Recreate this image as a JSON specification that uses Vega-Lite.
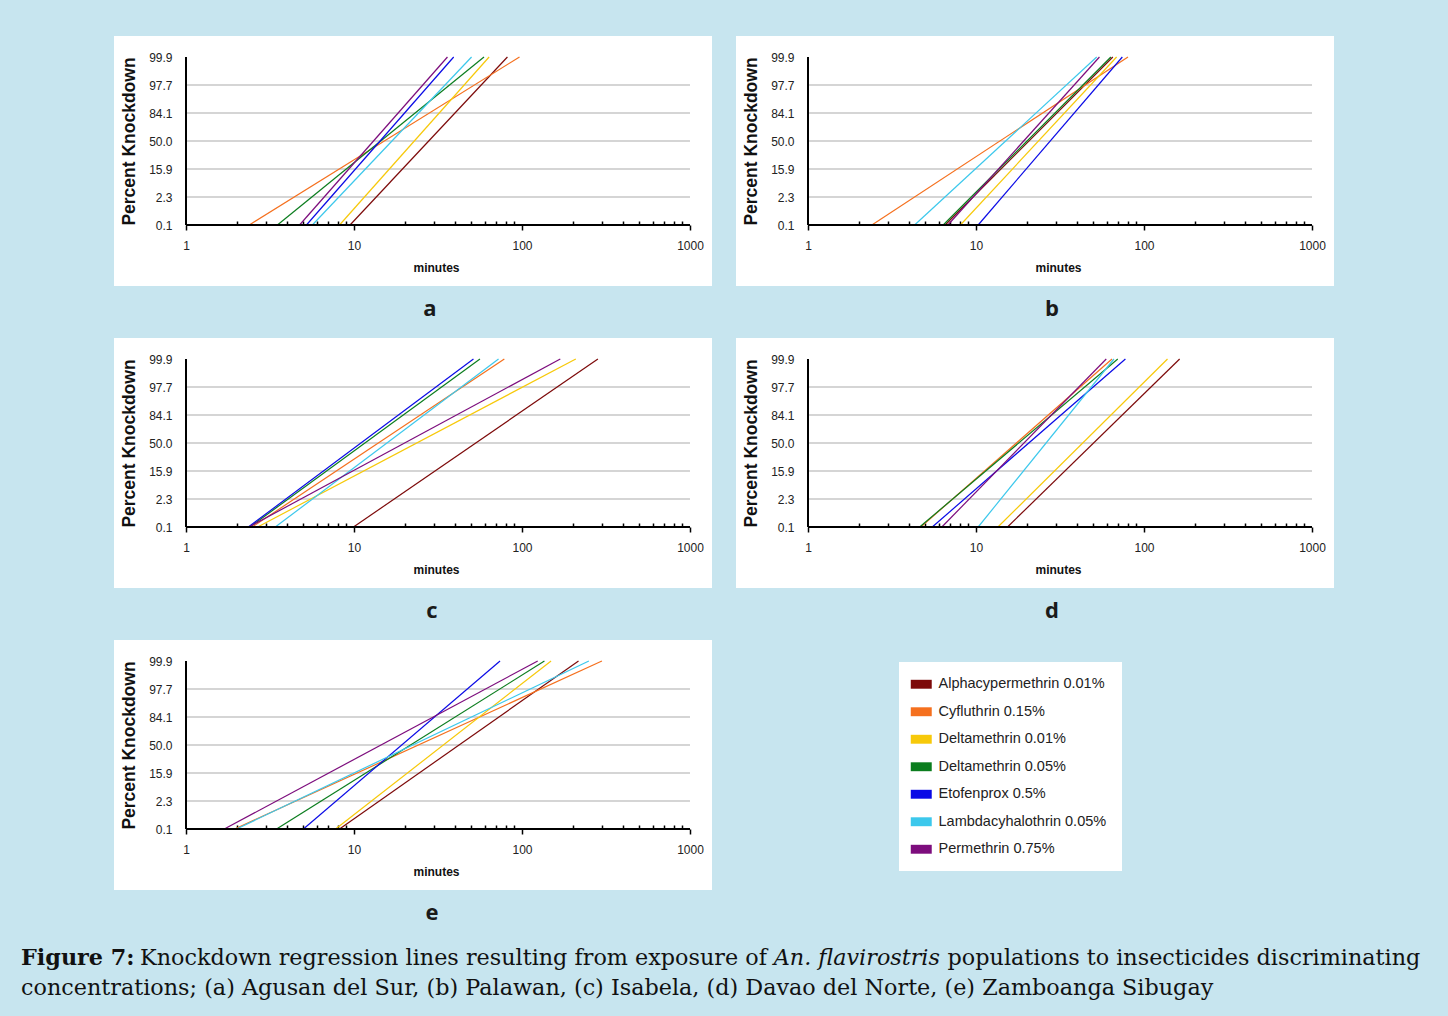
{
  "$schema": "https://vega.github.io/schema/vega-lite/v6.json",
  "background": "#c7e5ef",
  "padding": {"left": 21, "right": 28, "top": 36, "bottom": 22},
  "bounds": "flush",
  "title": {"text": "concentrations; (a) Agusan del Sur, (b) Palawan, (c) Isabela, (d) Davao del Norte, (e) Zamboanga Sibugay", "orient": "bottom", "anchor": "start", "font": "DejaVu Serif", "fontSize": 22.3, "fontWeight": "normal", "color": "#111111", "dx": 0, "offset": 7.5},
  "datasets": {
    "lines": [
      {"panel": "a", "insecticide": "Alphacypermethrin 0.01%", "minutes": 9.47, "probit": -3},
      {"panel": "a", "insecticide": "Alphacypermethrin 0.01%", "minutes": 81.9, "probit": 3},
      {"panel": "a", "insecticide": "Cyfluthrin 0.15%", "minutes": 2.38, "probit": -3},
      {"panel": "a", "insecticide": "Cyfluthrin 0.15%", "minutes": 96.6, "probit": 3},
      {"panel": "a", "insecticide": "Deltamethrin 0.01%", "minutes": 8.2, "probit": -3},
      {"panel": "a", "insecticide": "Deltamethrin 0.01%", "minutes": 63.7, "probit": 3},
      {"panel": "a", "insecticide": "Deltamethrin 0.05%", "minutes": 3.5, "probit": -3},
      {"panel": "a", "insecticide": "Deltamethrin 0.05%", "minutes": 59.4, "probit": 3},
      {"panel": "a", "insecticide": "Etofenprox 0.5%", "minutes": 5.21, "probit": -3},
      {"panel": "a", "insecticide": "Etofenprox 0.5%", "minutes": 39.2, "probit": 3},
      {"panel": "a", "insecticide": "Lambdacyhalothrin 0.05%", "minutes": 5.65, "probit": -3},
      {"panel": "a", "insecticide": "Lambdacyhalothrin 0.05%", "minutes": 50.1, "probit": 3},
      {"panel": "a", "insecticide": "Permethrin 0.75%", "minutes": 4.74, "probit": -3},
      {"panel": "a", "insecticide": "Permethrin 0.75%", "minutes": 36.0, "probit": 3},
      {"panel": "b", "insecticide": "Alphacypermethrin 0.01%", "minutes": 6.55, "probit": -3},
      {"panel": "b", "insecticide": "Alphacypermethrin 0.01%", "minutes": 65.2, "probit": 3},
      {"panel": "b", "insecticide": "Cyfluthrin 0.15%", "minutes": 2.4, "probit": -3},
      {"panel": "b", "insecticide": "Cyfluthrin 0.15%", "minutes": 80.3, "probit": 3},
      {"panel": "b", "insecticide": "Deltamethrin 0.01%", "minutes": 8.07, "probit": -3},
      {"panel": "b", "insecticide": "Deltamethrin 0.01%", "minutes": 68.7, "probit": 3},
      {"panel": "b", "insecticide": "Deltamethrin 0.05%", "minutes": 6.38, "probit": -3},
      {"panel": "b", "insecticide": "Deltamethrin 0.05%", "minutes": 63.5, "probit": 3},
      {"panel": "b", "insecticide": "Etofenprox 0.5%", "minutes": 10.3, "probit": -3},
      {"panel": "b", "insecticide": "Etofenprox 0.5%", "minutes": 74.3, "probit": 3},
      {"panel": "b", "insecticide": "Lambdacyhalothrin 0.05%", "minutes": 4.31, "probit": -3},
      {"panel": "b", "insecticide": "Lambdacyhalothrin 0.05%", "minutes": 52.3, "probit": 3},
      {"panel": "b", "insecticide": "Permethrin 0.75%", "minutes": 6.8, "probit": -3},
      {"panel": "b", "insecticide": "Permethrin 0.75%", "minutes": 54.3, "probit": 3},
      {"panel": "c", "insecticide": "Alphacypermethrin 0.01%", "minutes": 9.93, "probit": -3},
      {"panel": "c", "insecticide": "Alphacypermethrin 0.01%", "minutes": 283, "probit": 3},
      {"panel": "c", "insecticide": "Cyfluthrin 0.15%", "minutes": 2.48, "probit": -3},
      {"panel": "c", "insecticide": "Cyfluthrin 0.15%", "minutes": 78.5, "probit": 3},
      {"panel": "c", "insecticide": "Deltamethrin 0.01%", "minutes": 2.67, "probit": -3},
      {"panel": "c", "insecticide": "Deltamethrin 0.01%", "minutes": 209, "probit": 3},
      {"panel": "c", "insecticide": "Deltamethrin 0.05%", "minutes": 2.4, "probit": -3},
      {"panel": "c", "insecticide": "Deltamethrin 0.05%", "minutes": 56.2, "probit": 3},
      {"panel": "c", "insecticide": "Etofenprox 0.5%", "minutes": 2.35, "probit": -3},
      {"panel": "c", "insecticide": "Etofenprox 0.5%", "minutes": 51.4, "probit": 3},
      {"panel": "c", "insecticide": "Lambdacyhalothrin 0.05%", "minutes": 3.4, "probit": -3},
      {"panel": "c", "insecticide": "Lambdacyhalothrin 0.05%", "minutes": 72.5, "probit": 3},
      {"panel": "c", "insecticide": "Permethrin 0.75%", "minutes": 2.37, "probit": -3},
      {"panel": "c", "insecticide": "Permethrin 0.75%", "minutes": 169, "probit": 3},
      {"panel": "d", "insecticide": "Alphacypermethrin 0.01%", "minutes": 15.4, "probit": -3},
      {"panel": "d", "insecticide": "Alphacypermethrin 0.01%", "minutes": 163, "probit": 3},
      {"panel": "d", "insecticide": "Cyfluthrin 0.15%", "minutes": 4.69, "probit": -3},
      {"panel": "d", "insecticide": "Cyfluthrin 0.15%", "minutes": 64.5, "probit": 3},
      {"panel": "d", "insecticide": "Deltamethrin 0.01%", "minutes": 13.5, "probit": -3},
      {"panel": "d", "insecticide": "Deltamethrin 0.01%", "minutes": 138, "probit": 3},
      {"panel": "d", "insecticide": "Deltamethrin 0.05%", "minutes": 4.62, "probit": -3},
      {"panel": "d", "insecticide": "Deltamethrin 0.05%", "minutes": 69.8, "probit": 3},
      {"panel": "d", "insecticide": "Etofenprox 0.5%", "minutes": 5.49, "probit": -3},
      {"panel": "d", "insecticide": "Etofenprox 0.5%", "minutes": 77.5, "probit": 3},
      {"panel": "d", "insecticide": "Lambdacyhalothrin 0.05%", "minutes": 10.3, "probit": -3},
      {"panel": "d", "insecticide": "Lambdacyhalothrin 0.05%", "minutes": 66.2, "probit": 3},
      {"panel": "d", "insecticide": "Permethrin 0.75%", "minutes": 6.26, "probit": -3},
      {"panel": "d", "insecticide": "Permethrin 0.75%", "minutes": 59.6, "probit": 3},
      {"panel": "e", "insecticide": "Alphacypermethrin 0.01%", "minutes": 8.2, "probit": -3},
      {"panel": "e", "insecticide": "Alphacypermethrin 0.01%", "minutes": 217, "probit": 3},
      {"panel": "e", "insecticide": "Cyfluthrin 0.15%", "minutes": 1.95, "probit": -3},
      {"panel": "e", "insecticide": "Cyfluthrin 0.15%", "minutes": 299, "probit": 3},
      {"panel": "e", "insecticide": "Deltamethrin 0.01%", "minutes": 7.77, "probit": -3},
      {"panel": "e", "insecticide": "Deltamethrin 0.01%", "minutes": 149, "probit": 3},
      {"panel": "e", "insecticide": "Deltamethrin 0.05%", "minutes": 3.46, "probit": -3},
      {"panel": "e", "insecticide": "Deltamethrin 0.05%", "minutes": 136, "probit": 3},
      {"panel": "e", "insecticide": "Etofenprox 0.5%", "minutes": 5.0, "probit": -3},
      {"panel": "e", "insecticide": "Etofenprox 0.5%", "minutes": 74, "probit": 3},
      {"panel": "e", "insecticide": "Lambdacyhalothrin 0.05%", "minutes": 2.0, "probit": -3},
      {"panel": "e", "insecticide": "Lambdacyhalothrin 0.05%", "minutes": 250, "probit": 3},
      {"panel": "e", "insecticide": "Permethrin 0.75%", "minutes": 1.69, "probit": -3},
      {"panel": "e", "insecticide": "Permethrin 0.75%", "minutes": 124, "probit": 3}
    ],
    "grid": [{"probit": -2}, {"probit": -1}, {"probit": 0}, {"probit": 1}, {"probit": 2}],
    "frame": [
      {"x_from": 1, "x_to": 1000, "p_from": -3, "p_to": -3},
      {"x_from": 1, "x_to": 1, "p_from": -3, "p_to": 3}
    ]
  },
  "vconcat": [
    {
      "bounds": "flush",
      "title": {"text": "Figure 7:", "orient": "bottom", "anchor": "start", "font": "DejaVu Serif", "fontSize": 22.3, "fontWeight": "bold", "color": "#111111", "dx": -93, "offset": 0, "dy": -22.3},
      "vconcat": [
        {
          "bounds": "flush",
          "title": {"text": "populations to insecticides discriminating", "orient": "bottom", "anchor": "start", "font": "DejaVu Serif", "fontSize": 22.3, "fontWeight": "normal", "color": "#111111", "dx": 833.6, "offset": 0, "dy": -22.3},
          "vconcat": [
            {
              "bounds": "flush",
              "title": {"text": "An. flavirostris", "orient": "bottom", "anchor": "start", "font": "DejaVu Serif", "fontSize": 22.3, "fontWeight": "normal", "fontStyle": "italic", "color": "#111111", "dx": 659.7, "offset": 0, "dy": -22.3},
              "vconcat": [
                {
                  "title": {"text": "Knockdown regression lines resulting from exposure of", "orient": "bottom", "anchor": "start", "font": "DejaVu Serif", "fontSize": 22.3, "fontWeight": "normal", "color": "#111111", "dx": 26, "offset": 23},
                  "bounds": "flush",
                  "columns": 2,
                  "spacing": {"row": 52, "column": 24},
                  "concat": [
                    {
                      "width": 598, "height": 250,
                      "title": {"text": "a", "dx": 17},
                      "resolve": {"axis": {"x": "independent", "y": "independent"}},
                      "layer": [
                        {"data": {"name": "grid"}, "mark": {"type": "rule", "color": "#ababab", "strokeWidth": 1},
                         "encoding": {"x": {"datum": 1, "type": "quantitative", "scale": {"type": "log", "domain": [0.3727, 1352], "nice": false}, "axis": null}, "x2": {"datum": 1000}, "y": {"field": "probit", "type": "quantitative", "scale": {"domain": [-5.17857, 3.75], "nice": false, "zero": false}, "axis": null}}},
                        {"data": {"name": "lines"}, "transform": [{"filter": "datum.panel === 'a'"}], "mark": {"type": "line", "strokeWidth": 1.2},
                         "encoding": {
                           "x": {"field": "minutes", "type": "quantitative", "scale": {"type": "log", "domain": [0.3727, 1352], "nice": false},
                             "axis": {"orient": "bottom", "offset": -61, "domain": false, "grid": false, "values": [1,2,3,4,5,6,7,8,9,10,20,30,40,50,60,70,80,90,100,200,300,400,500,600,700,800,900,1000], "labelExpr": "datum.value==1||datum.value==10||datum.value==100||datum.value==1000 ? format(datum.value,'d') : ''", "labelOverlap": false, "labelFlush": false, "labelBound": false, "tickColor": "#000000", "tickWidth": 1.5, "tickSize": {"condition": {"test": "datum.value==1||datum.value==10||datum.value==100||datum.value==1000", "value": 5}, "value": -4}, "labelFont": "Liberation Sans", "labelFontSize": 12, "labelColor": "#222222", "labelPadding": 10, "title": "minutes", "titleFont": "Liberation Sans", "titleFontSize": 12, "titleFontWeight": "bold", "titleColor": "#111111", "titleX": 322, "titleY": 42, "titleBaseline": "middle", "titleAlign": "center"}},
                           "y": {"field": "probit", "type": "quantitative", "scale": {"domain": [-5.17857, 3.75], "nice": false, "zero": false},
                             "axis": {"orient": "left", "offset": -72, "domain": false, "ticks": false, "tickSize": 0, "grid": false, "values": [-3,-2,-1,0,1,2,3], "labelExpr": "['0.1','2.3','15.9','50.0','84.1','97.7','99.9'][datum.value+3]", "labelFont": "Liberation Sans", "labelFontSize": 12, "labelColor": "#222222", "labelPadding": 14, "title": "Percent Knockdown", "titleFont": "Liberation Sans", "titleFontSize": 17.5, "titleFontWeight": "bold", "titleColor": "#111111", "titleX": -57, "titleY": 105, "titleAngle": -90, "titleBaseline": "middle", "titleAlign": "center"}},
                           "color": {"field": "insecticide", "type": "nominal",
                             "scale": {"domain": ["Alphacypermethrin 0.01%", "Cyfluthrin 0.15%", "Deltamethrin 0.01%", "Deltamethrin 0.05%", "Etofenprox 0.5%", "Lambdacyhalothrin 0.05%", "Permethrin 0.75%"], "range": ["#7d0a0a", "#f5701e", "#f7c90a", "#0b7d1e", "#0a0ae6", "#3cc8ec", "#7d0d7d"]},
                             "legend": {"orient": "none", "legendX": 785, "legendY": 626, "title": null, "fillColor": "#ffffff", "padding": 15, "labelFont": "Liberation Sans", "labelFontSize": 14.5, "labelLimit": 400, "labelColor": "#222222", "symbolType": "M-2,-0.85H2V0.85H-2Z", "symbolSize": 110, "symbolStrokeWidth": 0, "rowPadding": 12.5, "labelOffset": 10,
                               "encode": {"symbols": {"update": {"fill": {"scale": "color", "field": "value"}, "fillOpacity": {"value": 1}, "strokeWidth": {"value": 0}}}}}}
                         }},
                        {"data": {"name": "frame"}, "mark": {"type": "rule", "color": "#000000", "strokeWidth": 2},
                         "encoding": {"x": {"field": "x_from", "type": "quantitative", "scale": {"type": "log", "domain": [0.3727, 1352], "nice": false}, "axis": null}, "x2": {"field": "x_to"}, "y": {"field": "p_from", "type": "quantitative", "scale": {"domain": [-5.17857, 3.75], "nice": false, "zero": false}, "axis": null}, "y2": {"field": "p_to"}}}
                      ]
                    },
                    {
                      "width": 598, "height": 250,
                      "title": {"text": "b", "dx": 17},
                      "resolve": {"axis": {"x": "independent", "y": "independent"}},
                      "layer": [
                        {"data": {"name": "grid"}, "mark": {"type": "rule", "color": "#ababab", "strokeWidth": 1},
                         "encoding": {"x": {"datum": 1, "type": "quantitative", "scale": {"type": "log", "domain": [0.3727, 1352], "nice": false}, "axis": null}, "x2": {"datum": 1000}, "y": {"field": "probit", "type": "quantitative", "scale": {"domain": [-5.17857, 3.75], "nice": false, "zero": false}, "axis": null}}},
                        {"data": {"name": "lines"}, "transform": [{"filter": "datum.panel === 'b'"}], "mark": {"type": "line", "strokeWidth": 1.2},
                         "encoding": {
                           "x": {"field": "minutes", "type": "quantitative", "scale": {"type": "log", "domain": [0.3727, 1352], "nice": false},
                             "axis": {"orient": "bottom", "offset": -61, "domain": false, "grid": false, "values": [1,2,3,4,5,6,7,8,9,10,20,30,40,50,60,70,80,90,100,200,300,400,500,600,700,800,900,1000], "labelExpr": "datum.value==1||datum.value==10||datum.value==100||datum.value==1000 ? format(datum.value,'d') : ''", "labelOverlap": false, "labelFlush": false, "labelBound": false, "tickColor": "#000000", "tickWidth": 1.5, "tickSize": {"condition": {"test": "datum.value==1||datum.value==10||datum.value==100||datum.value==1000", "value": 5}, "value": -4}, "labelFont": "Liberation Sans", "labelFontSize": 12, "labelColor": "#222222", "labelPadding": 10, "title": "minutes", "titleFont": "Liberation Sans", "titleFontSize": 12, "titleFontWeight": "bold", "titleColor": "#111111", "titleX": 322, "titleY": 42, "titleBaseline": "middle", "titleAlign": "center"}},
                           "y": {"field": "probit", "type": "quantitative", "scale": {"domain": [-5.17857, 3.75], "nice": false, "zero": false},
                             "axis": {"orient": "left", "offset": -72, "domain": false, "ticks": false, "tickSize": 0, "grid": false, "values": [-3,-2,-1,0,1,2,3], "labelExpr": "['0.1','2.3','15.9','50.0','84.1','97.7','99.9'][datum.value+3]", "labelFont": "Liberation Sans", "labelFontSize": 12, "labelColor": "#222222", "labelPadding": 14, "title": "Percent Knockdown", "titleFont": "Liberation Sans", "titleFontSize": 17.5, "titleFontWeight": "bold", "titleColor": "#111111", "titleX": -57, "titleY": 105, "titleAngle": -90, "titleBaseline": "middle", "titleAlign": "center"}},
                           "color": {"field": "insecticide", "type": "nominal"}
                         }},
                        {"data": {"name": "frame"}, "mark": {"type": "rule", "color": "#000000", "strokeWidth": 2},
                         "encoding": {"x": {"field": "x_from", "type": "quantitative", "scale": {"type": "log", "domain": [0.3727, 1352], "nice": false}, "axis": null}, "x2": {"field": "x_to"}, "y": {"field": "p_from", "type": "quantitative", "scale": {"domain": [-5.17857, 3.75], "nice": false, "zero": false}, "axis": null}, "y2": {"field": "p_to"}}}
                      ]
                    },
                    {
                      "width": 598, "height": 250,
                      "title": {"text": "c", "dx": 19},
                      "resolve": {"axis": {"x": "independent", "y": "independent"}},
                      "layer": [
                        {"data": {"name": "grid"}, "mark": {"type": "rule", "color": "#ababab", "strokeWidth": 1},
                         "encoding": {"x": {"datum": 1, "type": "quantitative", "scale": {"type": "log", "domain": [0.3727, 1352], "nice": false}, "axis": null}, "x2": {"datum": 1000}, "y": {"field": "probit", "type": "quantitative", "scale": {"domain": [-5.17857, 3.75], "nice": false, "zero": false}, "axis": null}}},
                        {"data": {"name": "lines"}, "transform": [{"filter": "datum.panel === 'c'"}], "mark": {"type": "line", "strokeWidth": 1.2},
                         "encoding": {
                           "x": {"field": "minutes", "type": "quantitative", "scale": {"type": "log", "domain": [0.3727, 1352], "nice": false},
                             "axis": {"orient": "bottom", "offset": -61, "domain": false, "grid": false, "values": [1,2,3,4,5,6,7,8,9,10,20,30,40,50,60,70,80,90,100,200,300,400,500,600,700,800,900,1000], "labelExpr": "datum.value==1||datum.value==10||datum.value==100||datum.value==1000 ? format(datum.value,'d') : ''", "labelOverlap": false, "labelFlush": false, "labelBound": false, "tickColor": "#000000", "tickWidth": 1.5, "tickSize": {"condition": {"test": "datum.value==1||datum.value==10||datum.value==100||datum.value==1000", "value": 5}, "value": -4}, "labelFont": "Liberation Sans", "labelFontSize": 12, "labelColor": "#222222", "labelPadding": 10, "title": "minutes", "titleFont": "Liberation Sans", "titleFontSize": 12, "titleFontWeight": "bold", "titleColor": "#111111", "titleX": 322, "titleY": 42, "titleBaseline": "middle", "titleAlign": "center"}},
                           "y": {"field": "probit", "type": "quantitative", "scale": {"domain": [-5.17857, 3.75], "nice": false, "zero": false},
                             "axis": {"orient": "left", "offset": -72, "domain": false, "ticks": false, "tickSize": 0, "grid": false, "values": [-3,-2,-1,0,1,2,3], "labelExpr": "['0.1','2.3','15.9','50.0','84.1','97.7','99.9'][datum.value+3]", "labelFont": "Liberation Sans", "labelFontSize": 12, "labelColor": "#222222", "labelPadding": 14, "title": "Percent Knockdown", "titleFont": "Liberation Sans", "titleFontSize": 17.5, "titleFontWeight": "bold", "titleColor": "#111111", "titleX": -57, "titleY": 105, "titleAngle": -90, "titleBaseline": "middle", "titleAlign": "center"}},
                           "color": {"field": "insecticide", "type": "nominal"}
                         }},
                        {"data": {"name": "frame"}, "mark": {"type": "rule", "color": "#000000", "strokeWidth": 2},
                         "encoding": {"x": {"field": "x_from", "type": "quantitative", "scale": {"type": "log", "domain": [0.3727, 1352], "nice": false}, "axis": null}, "x2": {"field": "x_to"}, "y": {"field": "p_from", "type": "quantitative", "scale": {"domain": [-5.17857, 3.75], "nice": false, "zero": false}, "axis": null}, "y2": {"field": "p_to"}}}
                      ]
                    },
                    {
                      "width": 598, "height": 250,
                      "title": {"text": "d", "dx": 17},
                      "resolve": {"axis": {"x": "independent", "y": "independent"}},
                      "layer": [
                        {"data": {"name": "grid"}, "mark": {"type": "rule", "color": "#ababab", "strokeWidth": 1},
                         "encoding": {"x": {"datum": 1, "type": "quantitative", "scale": {"type": "log", "domain": [0.3727, 1352], "nice": false}, "axis": null}, "x2": {"datum": 1000}, "y": {"field": "probit", "type": "quantitative", "scale": {"domain": [-5.17857, 3.75], "nice": false, "zero": false}, "axis": null}}},
                        {"data": {"name": "lines"}, "transform": [{"filter": "datum.panel === 'd'"}], "mark": {"type": "line", "strokeWidth": 1.2},
                         "encoding": {
                           "x": {"field": "minutes", "type": "quantitative", "scale": {"type": "log", "domain": [0.3727, 1352], "nice": false},
                             "axis": {"orient": "bottom", "offset": -61, "domain": false, "grid": false, "values": [1,2,3,4,5,6,7,8,9,10,20,30,40,50,60,70,80,90,100,200,300,400,500,600,700,800,900,1000], "labelExpr": "datum.value==1||datum.value==10||datum.value==100||datum.value==1000 ? format(datum.value,'d') : ''", "labelOverlap": false, "labelFlush": false, "labelBound": false, "tickColor": "#000000", "tickWidth": 1.5, "tickSize": {"condition": {"test": "datum.value==1||datum.value==10||datum.value==100||datum.value==1000", "value": 5}, "value": -4}, "labelFont": "Liberation Sans", "labelFontSize": 12, "labelColor": "#222222", "labelPadding": 10, "title": "minutes", "titleFont": "Liberation Sans", "titleFontSize": 12, "titleFontWeight": "bold", "titleColor": "#111111", "titleX": 322, "titleY": 42, "titleBaseline": "middle", "titleAlign": "center"}},
                           "y": {"field": "probit", "type": "quantitative", "scale": {"domain": [-5.17857, 3.75], "nice": false, "zero": false},
                             "axis": {"orient": "left", "offset": -72, "domain": false, "ticks": false, "tickSize": 0, "grid": false, "values": [-3,-2,-1,0,1,2,3], "labelExpr": "['0.1','2.3','15.9','50.0','84.1','97.7','99.9'][datum.value+3]", "labelFont": "Liberation Sans", "labelFontSize": 12, "labelColor": "#222222", "labelPadding": 14, "title": "Percent Knockdown", "titleFont": "Liberation Sans", "titleFontSize": 17.5, "titleFontWeight": "bold", "titleColor": "#111111", "titleX": -57, "titleY": 105, "titleAngle": -90, "titleBaseline": "middle", "titleAlign": "center"}},
                           "color": {"field": "insecticide", "type": "nominal"}
                         }},
                        {"data": {"name": "frame"}, "mark": {"type": "rule", "color": "#000000", "strokeWidth": 2},
                         "encoding": {"x": {"field": "x_from", "type": "quantitative", "scale": {"type": "log", "domain": [0.3727, 1352], "nice": false}, "axis": null}, "x2": {"field": "x_to"}, "y": {"field": "p_from", "type": "quantitative", "scale": {"domain": [-5.17857, 3.75], "nice": false, "zero": false}, "axis": null}, "y2": {"field": "p_to"}}}
                      ]
                    },
                    {
                      "width": 598, "height": 250,
                      "title": {"text": "e", "dx": 19},
                      "resolve": {"axis": {"x": "independent", "y": "independent"}},
                      "layer": [
                        {"data": {"name": "grid"}, "mark": {"type": "rule", "color": "#ababab", "strokeWidth": 1},
                         "encoding": {"x": {"datum": 1, "type": "quantitative", "scale": {"type": "log", "domain": [0.3727, 1352], "nice": false}, "axis": null}, "x2": {"datum": 1000}, "y": {"field": "probit", "type": "quantitative", "scale": {"domain": [-5.17857, 3.75], "nice": false, "zero": false}, "axis": null}}},
                        {"data": {"name": "lines"}, "transform": [{"filter": "datum.panel === 'e'"}], "mark": {"type": "line", "strokeWidth": 1.2},
                         "encoding": {
                           "x": {"field": "minutes", "type": "quantitative", "scale": {"type": "log", "domain": [0.3727, 1352], "nice": false},
                             "axis": {"orient": "bottom", "offset": -61, "domain": false, "grid": false, "values": [1,2,3,4,5,6,7,8,9,10,20,30,40,50,60,70,80,90,100,200,300,400,500,600,700,800,900,1000], "labelExpr": "datum.value==1||datum.value==10||datum.value==100||datum.value==1000 ? format(datum.value,'d') : ''", "labelOverlap": false, "labelFlush": false, "labelBound": false, "tickColor": "#000000", "tickWidth": 1.5, "tickSize": {"condition": {"test": "datum.value==1||datum.value==10||datum.value==100||datum.value==1000", "value": 5}, "value": -4}, "labelFont": "Liberation Sans", "labelFontSize": 12, "labelColor": "#222222", "labelPadding": 10, "title": "minutes", "titleFont": "Liberation Sans", "titleFontSize": 12, "titleFontWeight": "bold", "titleColor": "#111111", "titleX": 322, "titleY": 42, "titleBaseline": "middle", "titleAlign": "center"}},
                           "y": {"field": "probit", "type": "quantitative", "scale": {"domain": [-5.17857, 3.75], "nice": false, "zero": false},
                             "axis": {"orient": "left", "offset": -72, "domain": false, "ticks": false, "tickSize": 0, "grid": false, "values": [-3,-2,-1,0,1,2,3], "labelExpr": "['0.1','2.3','15.9','50.0','84.1','97.7','99.9'][datum.value+3]", "labelFont": "Liberation Sans", "labelFontSize": 12, "labelColor": "#222222", "labelPadding": 14, "title": "Percent Knockdown", "titleFont": "Liberation Sans", "titleFontSize": 17.5, "titleFontWeight": "bold", "titleColor": "#111111", "titleX": -57, "titleY": 105, "titleAngle": -90, "titleBaseline": "middle", "titleAlign": "center"}},
                           "color": {"field": "insecticide", "type": "nominal"}
                         }},
                        {"data": {"name": "frame"}, "mark": {"type": "rule", "color": "#000000", "strokeWidth": 2},
                         "encoding": {"x": {"field": "x_from", "type": "quantitative", "scale": {"type": "log", "domain": [0.3727, 1352], "nice": false}, "axis": null}, "x2": {"field": "x_to"}, "y": {"field": "p_from", "type": "quantitative", "scale": {"domain": [-5.17857, 3.75], "nice": false, "zero": false}, "axis": null}, "y2": {"field": "p_to"}}}
                      ]
                    }
                  ]
                }
              ]
            }
          ]
        }
      ]
    }
  ],
  "config": {
    "view": {"fill": "#ffffff", "stroke": null},
    "title": {"orient": "bottom", "anchor": "middle", "font": "Open Sans", "fontSize": 22, "fontWeight": "bold", "color": "#1a1a1a", "offset": 13}
  }
}
